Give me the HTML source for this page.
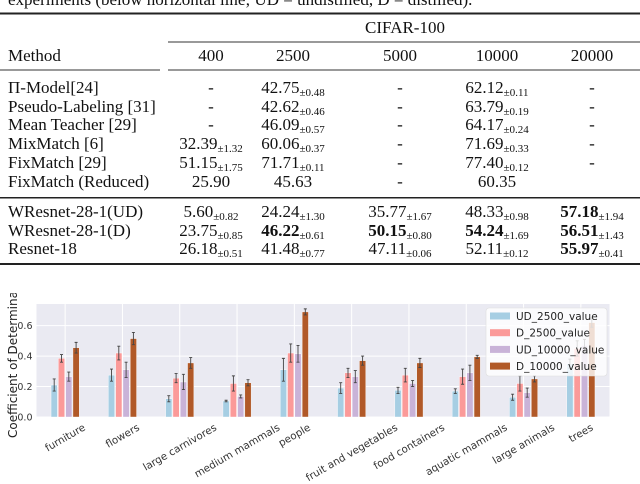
<!DOCTYPE html>
<html><head><meta charset="utf-8"><style>
html,body{margin:0;padding:0;background:#fff;width:640px;height:484px;overflow:hidden}
svg{display:block}
.tt{font-family:"Liberation Serif",serif;font-size:17px;fill:#111}
.sb{font-size:11px}
</style></head><body>
<svg id="root" width="640" height="484" viewBox="0 0 640 484">
<defs><clipPath id="figclip"><rect x="0" y="293" width="640" height="191"/></clipPath></defs>
<g id="table">
<text class="tt" x="8" y="5">experiments (below horizontal line; UD = undistilled, D = distilled).</text>
<rect x="0" y="12.5" width="640" height="2" fill="#222"/>
<text class="tt" x="405" y="33" text-anchor="middle">CIFAR-100</text>
<rect x="168" y="41.5" width="472" height="1" fill="#333"/>
<rect x="0" y="69.5" width="160" height="1" fill="#333"/>
<rect x="168" y="69.5" width="472" height="1" fill="#333"/>
<rect x="0" y="197" width="640" height="1.5" fill="#222"/>
<rect x="0" y="263" width="640" height="2" fill="#222"/>
</g>
<g id="chart"></g>
</svg>
<script>
const NS="http://www.w3.org/2000/svg";
const table=document.getElementById('table');
function mk(tag,attrs,parent){const e=document.createElementNS(NS,tag);for(const k in attrs)e.setAttribute(k,attrs[k]);parent.appendChild(e);return e;}

// ---- table ----
const colX=[211,293,400,497,592];
const colHeads=["400","2500","5000","10000","20000"];
const rowY=[88,107,125,144,163,182,212,231,249];
const methods=["\u03A0-Model[24]","Pseudo-Labeling [31]","Mean Teacher [29]","MixMatch [6]","FixMatch [29]","FixMatch (Reduced)","WResnet-28-1(UD)","WResnet-28-1(D)","Resnet-18"];
const cells=[
 [["-"],["42.75","0.48"],["-"],["62.12","0.11"],["-"]],
 [["-"],["42.62","0.46"],["-"],["63.79","0.19"],["-"]],
 [["-"],["46.09","0.57"],["-"],["64.17","0.24"],["-"]],
 [["32.39","1.32"],["60.06","0.37"],["-"],["71.69","0.33"],["-"]],
 [["51.15","1.75"],["71.71","0.11"],["-"],["77.40","0.12"],["-"]],
 [["25.90"],["45.63"],["-"],["60.35"],[""]],
 [["5.60","0.82"],["24.24","1.30"],["35.77","1.67"],["48.33","0.98"],["57.18","1.94","b"]],
 [["23.75","0.85"],["46.22","0.61","b"],["50.15","0.80","b"],["54.24","1.69","b"],["56.51","1.43","b"]],
 [["26.18","0.51"],["41.48","0.77"],["47.11","0.06"],["52.11","0.12"],["55.97","0.41","b"]]
];
let t=mk('text',{class:'tt',x:8,y:61},table);t.textContent="Method";

colHeads.forEach((h,i)=>{const e=mk('text',{class:'tt',x:colX[i],y:61,'text-anchor':'middle'},table);e.textContent=h;
 });
methods.forEach((m,r)=>{
 const e=mk('text',{class:'tt',x:8,y:rowY[r]+5},table);e.textContent=m;
 
 cells[r].forEach((c,i)=>{
  const tx=mk('text',{class:'tt',x:colX[i],y:rowY[r]+5,'text-anchor':'middle'},table);
  
  const a=mk('tspan',{},tx);a.textContent=c[0];if(c[2])a.setAttribute('font-weight','bold');
  if(c[1]){const b=mk('tspan',{class:'sb',dy:3},tx);b.textContent="\u00B1"+c[1];}
 });
});

// ---- chart data ----
const categories=["furniture","flowers","large carnivores","medium mammals","people","fruit and vegetables","food containers","aquatic mammals","large animals","trees"];
const seriesNames=["UD_2500_value","D_2500_value","UD_10000_value","D_10000_value"];
const ud2500=[0.21,0.275,0.12,0.105,0.31,0.19,0.175,0.17,0.13,0.35];
const d2500=[0.385,0.42,0.255,0.22,0.42,0.29,0.275,0.265,0.22,0.45];
const ud10000=[0.265,0.31,0.23,0.135,0.415,0.265,0.22,0.29,0.16,0.47];
const d10000=[0.455,0.515,0.355,0.225,0.69,0.37,0.355,0.395,0.25,0.62];
const errUd2500=[0.04,0.04,0.02,0.005,0.075,0.035,0.02,0.015,0.02,0.03];
const errD2500=[0.025,0.045,0.03,0.05,0.06,0.03,0.045,0.05,0.05,0.05];
const errUd10000=[0.03,0.05,0.05,0.01,0.055,0.04,0.02,0.05,0.03,0.04];
const errD10000=[0.035,0.04,0.035,0.02,0.02,0.03,0.03,0.01,0.02,0.03];
const yTicks=[0,0.2,0.4,0.6];
const yTickLabels=["0.0","0.2","0.4","0.6"];

const colors=["#a6cee3","#fb9a99","#c9b3d8","#b15928"];
const P={l:36.5,r:609.5,t:304,b:417};
const yMax=0.742;
const X=i=>P.l+(i+0.5)*(P.r-P.l)/categories.length;
const Y=v=>P.b-v/yMax*(P.b-P.t);
const chart=document.getElementById('chart');
const F='"DejaVu Sans","Liberation Sans",sans-serif';

let bg=mk('rect',{x:P.l,y:P.t,width:P.r-P.l,height:P.b-P.t,fill:'#eaeaf2'},chart);

yTicks.forEach((v,i)=>{
 const g=mk('line',{x1:P.l,x2:P.r,y1:Y(v),y2:Y(v),stroke:'#fff','stroke-width':1},chart);
 
 const l=mk('text',{x:P.l-4,y:Y(v)+3.5,'text-anchor':'end','font-family':F,'font-size':9.5,fill:'#333'},chart);
 l.textContent=yTickLabels[i];
 
});
categories.forEach((c,i)=>{
 const g=mk('line',{x1:X(i),x2:X(i),y1:P.t,y2:P.b,stroke:'#fff','stroke-width':1},chart);
 
});
const vals=[ud2500,d2500,ud10000,d10000];
const errs=[errUd2500,errD2500,errUd10000,errD10000];
const pitch=7.3,bw=6.3;
categories.forEach((c,i)=>{
 vals.forEach((s,k)=>{
  const cx=X(i)+(k-1.5)*pitch;
  const r=mk('rect',{x:cx-bw/2,y:Y(s[i]),width:bw,height:Y(0)-Y(s[i]),fill:colors[k],stroke:'#fff','stroke-width':0.4},chart);
  
  const e=errs[k][i],y1=Y(s[i]+e),y2=Y(s[i]-e);
  const eb=mk('path',{d:`M${cx},${y1}V${y2}M${cx-1.5},${y1}H${cx+1.5}M${cx-1.5},${y2}H${cx+1.5}`,stroke:'#444','stroke-width':0.9,fill:'none'},chart);
  
 });
});
categories.forEach((c,i)=>{
 const tx=mk('text',{'font-family':F,'font-size':10.3,fill:'#333','text-anchor':'middle'},chart);
 tx.textContent=c;
 
 const L=tx.getComputedTextLength(),h=10.3;
 const bh=L*0.5+h*0.866;
 const cy=422+bh/2;
 tx.setAttribute('x',X(i));tx.setAttribute('y',cy+3.5);
 tx.setAttribute('transform',`rotate(-30 ${X(i)} ${cy})`);
});
const ytg=mk('g',{'clip-path':'url(#figclip)'},chart);
const yt=mk('text',{x:0,y:0,'font-family':F,'font-size':12,fill:'#222','text-anchor':'start',transform:'translate(17,438) rotate(-90)'},ytg);
yt.textContent="Coefficient of Determination";

const lg=mk('g',{},chart);

mk('rect',{x:486,y:308,width:121,height:68,rx:3,fill:'#fff','fill-opacity':0.8,stroke:'#ddd','stroke-width':0.6},lg);
seriesNames.forEach((n,k)=>{
 const y=316+k*16.7;
 const sw=mk('rect',{x:490,y:y-3.5,width:20,height:7,fill:colors[k]},lg);
 
 const tx=mk('text',{x:516,y:y+4,'font-family':F,'font-size':10.5,fill:'#222'},lg);
 tx.textContent=n;
 
});
</script>
</body></html>
